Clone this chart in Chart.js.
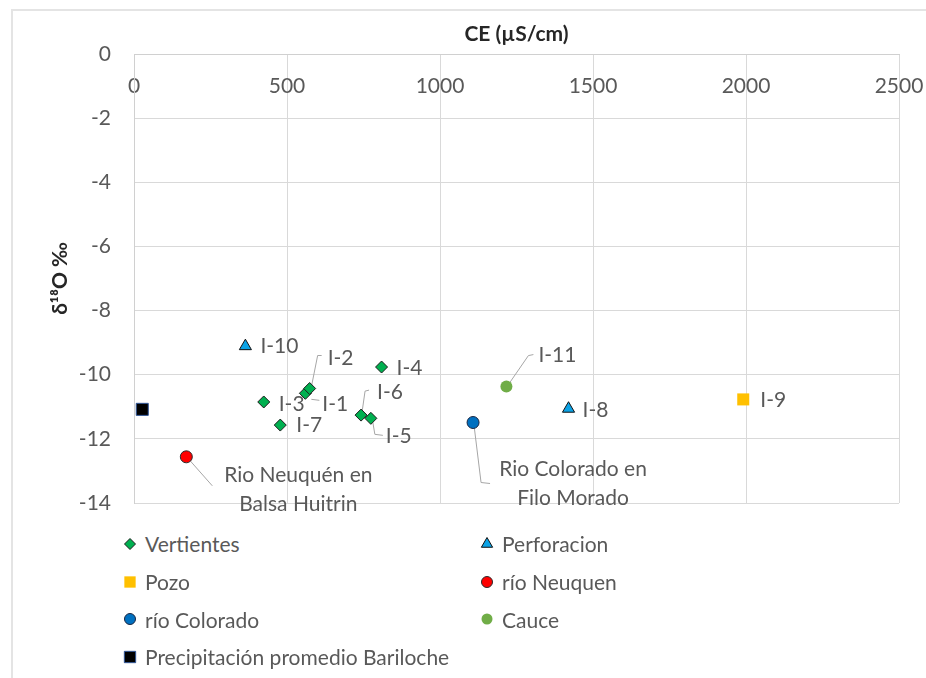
<!DOCTYPE html>
<html lang="es">
<head>
<meta charset="utf-8">
<title>δ18O vs CE</title>
<script src="https://cdn.jsdelivr.net/npm/chart.js@4.4.1/dist/chart.umd.min.js"></script>
<style>
  html, body { margin: 0; padding: 0; background: #fff; }
  body { width: 926px; height: 678px; position: relative; overflow: hidden; font-family: Lato, sans-serif; }
  #frame { position: absolute; left: 11px; top: 9px; width: 930px; height: 680px; border-left: 2px solid #e4e4e4; border-top: 2px solid #e4e4e4; }
  #chartBox { position: absolute; left: 13px; top: 11px; width: 913px; height: 509px; }
  #legend { position: absolute; left: 122px; top: 525px; display: grid; grid-template-columns: 357px 300px; grid-auto-rows: 37.7px; }
  .item { display: flex; align-items: center; font-size: 21px; color: #595959; white-space: nowrap; }
  .item canvas { width: 16px; height: 16px; margin-right: 7px; }
</style>
</head>
<body>
<div id="frame"></div>
<div id="chartBox"><canvas id="chartIsotopes"></canvas></div>
<div id="legend"></div>
<script>
const _ = (id) => document.getElementById(id)

// CE (µS/cm) and δ18O (‰) per group of samples
const vertientesNames = ['I-1', 'I-2', 'I-3', 'I-4', 'I-5', 'I-6', 'I-7']
const vertientesCE = [560, 574, 424, 809, 774, 742, 478]
const vertientesO18 = [-10.58, -10.43, -10.85, -9.76, -11.36, -11.26, -11.57]

const perforacionNames = ['I-8', 'I-10']
const perforacionCE = [1420, 364]
const perforacionO18 = [-11.06, -9.11]

const pozoNames = ['I-9']
const pozoCE = [1991]
const pozoO18 = [-10.77]

const neuquenNames = [['Rio Neuquén en', 'Balsa Huitrin']]
const neuquenCE = [171]
const neuquenO18 = [-12.56]

const coloradoNames = [['Rio Colorado en', 'Filo Morado']]
const coloradoCE = [1108]
const coloradoO18 = [-11.49]

const cauceNames = ['I-11']
const cauceCE = [1217]
const cauceO18 = [-10.37]

const barilocheCE = [27]
const barilocheO18 = [-11.08]

const ceTicks = [0, 500, 1000, 1500, 2000, 2500]
const o18Ticks = [-14, -12, -10, -8, -6, -4, -2, 0]

// where each point name sits relative to its marker, with optional leader line
const namePlacement = {
  'I-1': { dx: 17, dy: 11, leader: [[6, 6], [14, 7]] },
  'I-2': { dx: 18, dy: -30, leader: [[2, -3], [8, -33], [12, -33]] },
  'I-3': { dx: 15, dy: 2 },
  'I-4': { dx: 15, dy: 1 },
  'I-5': { dx: 15, dy: 18, leader: [[2, 4], [4, 16], [12, 17]] },
  'I-6': { dx: 16, dy: -23, leader: [[1, -3], [4, -24], [8, -25]] },
  'I-7': { dx: 16, dy: 0 },
  'I-8': { dx: 14, dy: 2 },
  'I-9': { dx: 17, dy: 1 },
  'I-10': { dx: 15, dy: 0 },
  'I-11': { dx: 32, dy: -31, leader: [[2, -2], [22, -31], [27, -32]] },
  'Rio Neuquén en Balsa Huitrin': { dx: 112, dy: 18, align: 'center', leader: [[3, 3], [26, 29]] },
  'Rio Colorado en Filo Morado': { dx: 100, dy: 47, align: 'center', leader: [[1, 3], [8, 60], [17, 61]] },
}

const toPoints = (xs, ys) => xs.map((x, i) => ({ x, y: ys[i] }))

const datasets = [
  {
    label: 'Vertientes',
    names: vertientesNames,
    data: toPoints(vertientesCE, vertientesO18),
    pointStyle: 'rectRot',
    pointRadius: 6,
    backgroundColor: '#00b050',
    borderColor: '#1c1c1c',
    borderWidth: 1,
  },
  {
    label: 'Perforacion',
    names: perforacionNames,
    data: toPoints(perforacionCE, perforacionO18),
    pointStyle: 'triangle',
    pointRadius: 7,
    backgroundColor: '#0ca3e6',
    borderColor: '#111111',
    borderWidth: 1,
  },
  {
    label: 'Pozo',
    names: pozoNames,
    data: toPoints(pozoCE, pozoO18),
    pointStyle: 'rect',
    pointRadius: 8.5,
    backgroundColor: '#ffc000',
    borderColor: '#ffc000',
    borderWidth: 0,
  },
  {
    label: 'río Neuquen',
    names: neuquenNames,
    data: toPoints(neuquenCE, neuquenO18),
    pointStyle: 'circle',
    pointRadius: 6,
    backgroundColor: '#ff0000',
    borderColor: '#2b2b2b',
    borderWidth: 1,
  },
  {
    label: 'río Colorado',
    names: coloradoNames,
    data: toPoints(coloradoCE, coloradoO18),
    pointStyle: 'circle',
    pointRadius: 6,
    backgroundColor: '#0070c0',
    borderColor: '#1a2540',
    borderWidth: 1,
  },
  {
    label: 'Cauce',
    names: cauceNames,
    data: toPoints(cauceCE, cauceO18),
    pointStyle: 'circle',
    pointRadius: 6,
    backgroundColor: '#70ad47',
    borderColor: '#70ad47',
    borderWidth: 0,
  },
  {
    label: 'Precipitación promedio Bariloche',
    data: toPoints(barilocheCE, barilocheO18),
    pointStyle: 'rect',
    pointRadius: 8.5,
    backgroundColor: '#000000',
    borderColor: '#2f5597',
    borderWidth: 1,
  },
]

const pointNamesPlugin = {
  id: 'pointNames',
  beforeDatasetsDraw(chart) {
    const ctx = chart.ctx
    ctx.save()
    ctx.font = '21px Lato'
    ctx.fillStyle = '#595959'
    ctx.strokeStyle = '#a6a6a6'
    ctx.lineWidth = 1
    ctx.textBaseline = 'middle'
    chart.data.datasets.forEach((ds, i) => {
      if (!ds.names) return
      chart.getDatasetMeta(i).data.forEach((pt, j) => {
        const lines = [].concat(ds.names[j])
        const place = namePlacement[lines.join(' ')]
        if (!place) return
        if (place.leader) {
          ctx.beginPath()
          place.leader.forEach(([lx, ly], k) => {
            if (k === 0) ctx.moveTo(pt.x + lx, pt.y + ly)
            else ctx.lineTo(pt.x + lx, pt.y + ly)
          })
          ctx.stroke()
        }
        ctx.textAlign = place.align || 'left'
        lines.forEach((line, k) => {
          ctx.fillText(line, pt.x + place.dx, pt.y + place.dy + k * 29)
        })
      })
    })
    ctx.restore()
  },
}

// legend in two columns, markers drawn with Chart.js' own point helper
const htmlLegendPlugin = {
  id: 'htmlLegend',
  afterUpdate(chart) {
    const box = _('legend')
    box.innerHTML = ''
    chart.data.datasets.forEach((ds) => {
      const item = document.createElement('div')
      item.className = 'item'
      const mark = document.createElement('canvas')
      mark.width = 16
      mark.height = 16
      const mctx = mark.getContext('2d')
      mctx.fillStyle = ds.backgroundColor
      mctx.strokeStyle = ds.borderColor
      mctx.lineWidth = ds.borderWidth
      Chart.helpers.drawPoint(
        mctx,
        {
          pointStyle: ds.pointStyle,
          radius: ds.pointRadius - 0.5,
          rotation: 0,
          borderWidth: ds.borderWidth,
        },
        8,
        8
      )
      const text = document.createElement('span')
      text.textContent = ds.label
      item.appendChild(mark)
      item.appendChild(text)
      box.appendChild(item)
    })
  },
}

function drawChart() {
  Chart.defaults.font.family = 'Lato'
  new Chart(_('chartIsotopes'), {
    type: 'scatter',
    data: { datasets },
    plugins: [pointNamesPlugin, htmlLegendPlugin],
    options: {
      responsive: true,
      maintainAspectRatio: false,
      animation: false,
      layout: { padding: { left: 0, top: 0, right: 27, bottom: 17 } },
      plugins: {
        legend: { display: false },
        tooltip: { enabled: false },
      },
      scales: {
        x: {
          type: 'linear',
          position: 'top',
          min: 0,
          max: 2500,
          afterBuildTicks: (scale) => {
            scale.ticks = ceTicks.map((value) => ({ value }))
          },
          afterFit: (scale) => {
            scale.height = 43
            scale.paddingLeft = 0
            scale.paddingRight = 0
          },
          grid: { color: '#d9d9d9', drawTicks: false },
          border: { color: '#d0d0d0' },
          ticks: {
            // labels hang just under the top axis line, inside the plot
            mirror: true,
            padding: 20,
            color: '#595959',
            font: { size: 21 },
            callback: (value) => `${value}`,
          },
          title: {
            display: true,
            text: 'CE (µS/cm)',
            color: '#262626',
            font: { size: 21, weight: 'bold' },
            padding: { top: 11, bottom: 0 },
          },
        },
        y: {
          type: 'linear',
          min: -14,
          max: 0,
          afterBuildTicks: (scale) => {
            scale.ticks = o18Ticks.map((value) => ({ value }))
          },
          afterFit: (scale) => {
            scale.width = 121
            scale.paddingTop = 0
            scale.paddingBottom = 0
          },
          grid: { color: '#d9d9d9', drawTicks: false },
          border: { color: '#d0d0d0' },
          ticks: {
            padding: 23,
            color: '#595959',
            font: { size: 21 },
            callback: (value) => `${value}`,
          },
          title: {
            display: true,
            text: 'δ¹⁸O ‰',
            color: '#262626',
            font: { size: 21, weight: 'bold' },
            padding: { top: 35, bottom: 0 },
          },
        },
      },
    },
  })
}

Promise.all([
  document.fonts.load('21px Lato'),
  document.fonts.load('bold 21px Lato'),
])
  .catch(() => {})
  .then(drawChart)
</script>
</body>
</html>
